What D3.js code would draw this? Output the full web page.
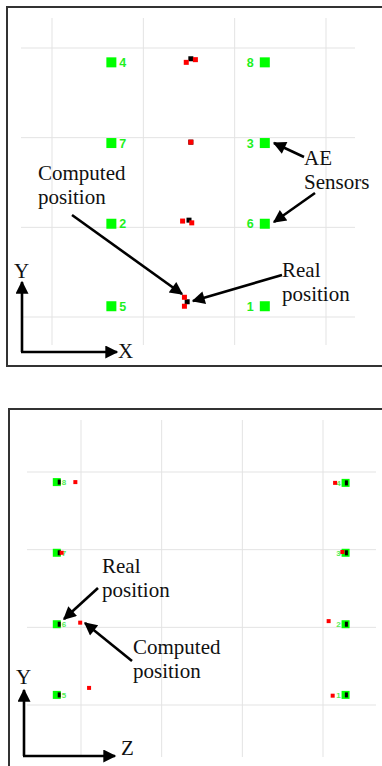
<!DOCTYPE html>
<html>
<head>
<meta charset="utf-8">
<script src="https://cdn.jsdelivr.net/npm/d3@7"></script>
<style>
  body { margin: 0; background: #fff; }
  svg { display: block; }
  .grid line { stroke: #e3e3e3; stroke-width: 1; }
  .note { font-family: "Liberation Serif", "Times New Roman", serif; font-size: 21px; fill: #111; }
</style>
</head>
<body>
<div id="chart"></div>
<script>
// grid ticks (same units on both views)
var gridTicks = [0, 100, 200, 300];

// X-Y view: sensors [id, x, y]
var xySensors = [
  [4, 65, 284], [8, 233, 284],
  [7, 65, 194], [3, 233, 194],
  [2, 65, 104], [6, 233, 104],
  [5, 65, 12],  [1, 233, 12]
];
var xyReal = [[152, 288], [152, 195], [150, 108], [148, 17]];
var xyComputed = [
  [147, 284], [157, 287],
  [152, 195],
  [143, 107], [153, 105],
  [145, 22], [145, 12]
];

// Z-Y view: sensors [id, z, y]
var zySensors = [
  [8, -30, 287], [4, 328, 286],
  [7, -30, 196], [3, 328, 196],
  [6, -30, 104], [2, 328, 104],
  [5, -30, 13],  [1, 328, 13]
];
var zyReal = [
  [-27, 287], [329, 286], [-27, 196], [329, 196],
  [-27, 104], [329, 104], [-27, 13], [329, 13]
];
var zyComputed = [
  [-7, 287], [315, 286],
  [-24, 196], [324, 197],
  [-1, 106], [307, 108],
  [10, 22], [312, 12]
];

var W = 382, H = 766;

var svg = d3.select("#chart").append("svg")
    .attr("width", W)
    .attr("height", H);

var defs = svg.append("defs");
defs.append("marker")
    .attr("id", "head")
    .attr("viewBox", "0 0 10 10")
    .attr("refX", 9).attr("refY", 5)
    .attr("markerWidth", 6).attr("markerHeight", 5)
    .attr("orient", "auto")
    .attr("markerUnits", "strokeWidth")
  .append("path")
    .attr("d", "M0,0 L10,5 L0,10 z")
    .attr("fill", "#000");

function arrow(g, x1, y1, x2, y2) {
  g.append("line")
      .attr("x1", x1).attr("y1", y1)
      .attr("x2", x2).attr("y2", y2)
      .attr("stroke", "#000")
      .attr("stroke-width", 2.6)
      .attr("marker-end", "url(#head)");
}

function note(g, x, y, lines) {
  var t = g.append("text").attr("class", "note");
  lines.forEach(function(s, i) {
    t.append("tspan").attr("x", x).attr("y", y + i * 24).text(s);
  });
}

function panel(opt) {
  var g = svg.append("g");

  g.append("rect")
      .attr("x", opt.frame[0]).attr("y", opt.frame[1])
      .attr("width", opt.frame[2]).attr("height", opt.frame[3])
      .attr("fill", "none")
      .attr("stroke", "#333")
      .attr("stroke-width", 2);

  var x = d3.scaleLinear().domain([0, 300]).range(opt.xr);
  var y = d3.scaleLinear().domain([0, 300]).range(opt.yr);

  var grid = g.append("g").attr("class", "grid");
  grid.selectAll(".v").data(gridTicks).enter().append("line")
      .attr("x1", function(d) { return x(d); })
      .attr("x2", function(d) { return x(d); })
      .attr("y1", opt.vext[0]).attr("y2", opt.vext[1]);
  grid.selectAll(".h").data(gridTicks).enter().append("line")
      .attr("y1", function(d) { return y(d); })
      .attr("y2", function(d) { return y(d); })
      .attr("x1", opt.hext[0]).attr("x2", opt.hext[1]);

  var s = opt.sensorSize;
  var mid = 150;

  g.selectAll(".sensor").data(opt.sensors).enter().append("rect")
      .attr("x", function(d) { return x(d[1]) - s / 2; })
      .attr("y", function(d) { return y(d[2]) - s / 2; })
      .attr("width", s).attr("height", s)
      .attr("fill", "#00ff00");

  g.selectAll(".slabel").data(opt.sensors).enter().append("text")
      .attr("x", function(d) {
        return d[1] < mid ? x(d[1]) + s / 2 + opt.labelGap[0] : x(d[1]) - s / 2 - opt.labelGap[1];
      })
      .attr("y", function(d) { return y(d[2]); })
      .attr("dy", "0.36em")
      .attr("text-anchor", function(d) { return d[1] < mid ? "start" : "end"; })
      .attr("font-family", "Liberation Sans, Arial, sans-serif")
      .attr("font-weight", "bold")
      .attr("font-size", opt.labelSize)
      .attr("fill", opt.labelColor)
      .text(function(d) { return d[0]; });

  var r = opt.real;
  g.selectAll(".real").data(opt.realPts).enter().append("rect")
      .attr("x", function(d) { return x(d[0]) - r[0] / 2; })
      .attr("y", function(d) { return y(d[1]) - r[1] / 2; })
      .attr("width", r[0]).attr("height", r[1])
      .attr("fill", "#000");

  var c = opt.comp;
  g.selectAll(".comp").data(opt.compPts).enter().append("rect")
      .attr("x", function(d) { return x(d[0]) - c / 2; })
      .attr("y", function(d) { return y(d[1]) - c / 2; })
      .attr("width", c).attr("height", c)
      .attr("fill", "#ff0000");

  return g;
}

// ---- X-Y view ----
var p1 = panel({
  frame: [7, 7, 400, 359],
  xr: [52, 326], yr: [317, 48],
  vext: [18, 345], hext: [21, 355],
  sensors: xySensors, realPts: xyReal, compPts: xyComputed,
  sensorSize: 10, labelSize: 12.5, labelColor: "#1ef01e", labelGap: [3, 6],
  real: [5, 5], comp: 5
});

note(p1, 38, 180, ["Computed", "position"]);
note(p1, 282, 277, ["Real", "position"]);
note(p1, 304, 165, ["AE", "Sensors"]);
arrow(p1, 72, 215, 182, 294);
arrow(p1, 282, 275, 193, 301);
arrow(p1, 304, 157, 274, 143);
arrow(p1, 315, 193, 274, 222);

arrow(p1, 22, 352, 22, 282);
arrow(p1, 21, 352, 117, 352);
p1.append("text").attr("class", "note").attr("x", 14).attr("y", 278).text("Y");
p1.append("text").attr("class", "note").attr("x", 118).attr("y", 358).text("X");

// ---- Z-Y view ----
var p2 = panel({
  frame: [9, 409, 400, 400],
  xr: [81, 323], yr: [705, 472],
  vext: [420, 757], hext: [27, 376],
  sensors: zySensors, realPts: zyReal, compPts: zyComputed,
  sensorSize: 8, labelSize: 8, labelColor: "#55ee55", labelGap: [1, 1],
  real: [3, 5], comp: 4
});

note(p2, 102, 573, ["Real", "position"]);
note(p2, 133, 654, ["Computed", "position"]);
arrow(p2, 98, 588, 64, 619);
arrow(p2, 132, 661, 85, 623);

arrow(p2, 24, 756, 24, 690);
arrow(p2, 23, 756, 115, 756);
p2.append("text").attr("class", "note").attr("x", 16).attr("y", 684).text("Y");
p2.append("text").attr("class", "note").attr("x", 121).attr("y", 755).text("Z");
</script>
</body>
</html>
